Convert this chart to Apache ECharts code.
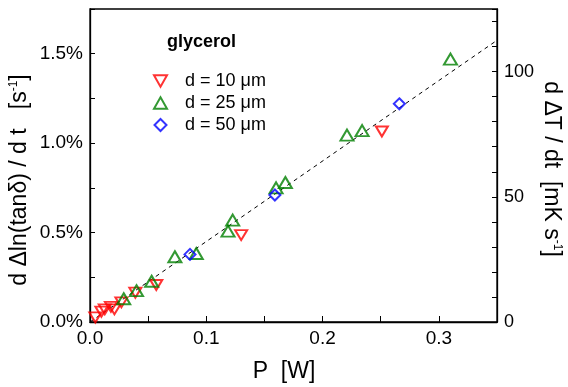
<!DOCTYPE html>
<html>
<head>
<meta charset="utf-8">
<script src="https://cdn.jsdelivr.net/npm/echarts@6/dist/echarts.min.js"></script>
<style>
  html, body { margin: 0; padding: 0; background: #fff; }
  #chart { width: 568px; height: 387px; }
</style>
</head>
<body>
<div id="chart"></div>
<script>
// P [W] vs d ln(tan delta)/dt [%/s]
const d10 = [
  [0.0046, 0.026], [0.0098, 0.058], [0.0127, 0.071], [0.018, 0.085], [0.021, 0.071],
  [0.027, 0.11], [0.039, 0.164], [0.057, 0.207], [0.13, 0.486], [0.251, 1.065]
];
const d25 = [
  [0.029, 0.13], [0.040, 0.175], [0.053, 0.228], [0.073, 0.365], [0.0914, 0.383],
  [0.1187, 0.508], [0.1227, 0.57], [0.16, 0.75], [0.168, 0.78], [0.221, 1.045],
  [0.234, 1.07], [0.31, 1.47]
];
const d50 = [[0.086, 0.378], [0.159, 0.71], [0.266, 1.22]];
const fitLine = [[0, 0], [0.35, 1.575]];
const seriesNames = ['d = 10 \u03bcm', 'd = 25 \u03bcm', 'd = 50 \u03bcm'];

const FONT = 'Liberation Sans, Arial, sans-serif';
const downTri = 'path://M0,0L10,0L5,8.66Z';
const upTri = 'path://M5,0L10,8.66L0,8.66Z';
const diamond = 'path://M5,0L10,5L5,10L0,5Z';

const chart = echarts.init(document.getElementById('chart'));

const hollow = (color) => ({ color: 'transparent', borderColor: color, borderWidth: 2 });
const supStyle = { fontSize: 12, verticalAlign: 'top', padding: [0, 0, 12, 0], fontFamily: FONT };

const option = {
  animation: false,
  backgroundColor: '#fff',
  grid: {
    left: 90, right: 71, top: 9, bottom: 65,
    show: true, borderColor: '#000', borderWidth: 1.3, backgroundColor: 'transparent'
  },
  legend: {
    orient: 'vertical',
    left: 148,
    top: 67,
    itemGap: 4,
    itemWidth: 13,
    itemHeight: 12,
    textStyle: { fontFamily: FONT, fontSize: 18, lineHeight: 18, color: '#000', padding: [0, 0, 0, 13] },
    data: seriesNames
  },
  xAxis: {
    type: 'value',
    min: 0, max: 0.35, interval: 0.1,
    axisLine: { show: true, lineStyle: { color: '#000', width: 1.3 } },
    axisTick: { show: true, inside: true, length: 6, lineStyle: { color: '#000' } },
    minorTick: { show: true, splitNumber: 2, length: 6, lineStyle: { color: '#000' } },
    splitLine: { show: false },
    axisLabel: {
      showMaxLabel: false, fontFamily: FONT, fontSize: 19, color: '#000', margin: 7,
      formatter: (v) => v.toFixed(1)
    }
  },
  yAxis: [
    {
      type: 'value',
      min: 0, max: 1.75, interval: 0.5,
      axisLine: { show: true, lineStyle: { color: '#000', width: 1.3 } },
      axisTick: { show: true, inside: true, length: 5, lineStyle: { color: '#000' } },
      minorTick: { show: true, splitNumber: 2, length: 5, lineStyle: { color: '#000' } },
      splitLine: { show: false },
      axisLabel: {
        showMaxLabel: false, fontFamily: FONT, fontSize: 19, color: '#000', margin: 7,
        formatter: (v) => v.toFixed(1) + '%'
      }
    },
    {
      type: 'value',
      position: 'right',
      min: 0, max: 125, interval: 10,
      axisLine: { show: true, lineStyle: { color: '#000', width: 1.3 } },
      axisTick: { show: true, inside: true, length: 5, lineStyle: { color: '#000' } },
      splitLine: { show: false },
      axisLabel: {
        fontFamily: FONT, fontSize: 18, color: '#000', margin: 7,
        formatter: (v) => (v % 50 === 0 ? String(v) : '')
      }
    }
  ],
  graphic: [
    {
      type: 'text', left: 167, top: 33,
      style: { text: 'glycerol', font: 'bold 18px ' + FONT, fill: '#000' }
    },
    {
      type: 'text', x: 20, y: 180, rotation: Math.PI / 2,
      style: {
        text: 'd \u0394ln(tan\u03b4) / d t   [s{sup|-1}]',
        font: '23px ' + FONT, fill: '#000', align: 'center', verticalAlign: 'middle',
        rich: { sup: supStyle }
      }
    },
    {
      type: 'text', x: 551, y: 169, rotation: -Math.PI / 2,
      style: {
        text: 'd \u0394T / dt  [mK s{sup|-1}]',
        font: '23px ' + FONT, fill: '#000', align: 'center', verticalAlign: 'middle',
        rich: { sup: supStyle }
      }
    },
    {
      type: 'text', x: 284, y: 372,
      style: { text: 'P  [W]', font: '23px ' + FONT, fill: '#000', align: 'center', verticalAlign: 'middle' }
    }
  ],
  series: [
    {
      type: 'line', data: fitLine, showSymbol: false, symbol: 'none', silent: true,
      lineStyle: { color: '#000', width: 1, type: [4, 4] }, z: 1
    },
    {
      name: seriesNames[0], type: 'scatter', data: d10,
      symbol: downTri, symbolSize: [12, 10], itemStyle: hollow('#ff0000'), z: 3
    },
    {
      name: seriesNames[1], type: 'scatter', data: d25,
      symbol: upTri, symbolSize: [13, 11], itemStyle: hollow('#008000'), z: 4
    },
    {
      name: seriesNames[2], type: 'scatter', data: d50,
      symbol: diamond, symbolSize: [11, 11], itemStyle: hollow('#0000ff'), z: 5
    }
  ]
};

chart.setOption(option);
</script>
</body>
</html>
